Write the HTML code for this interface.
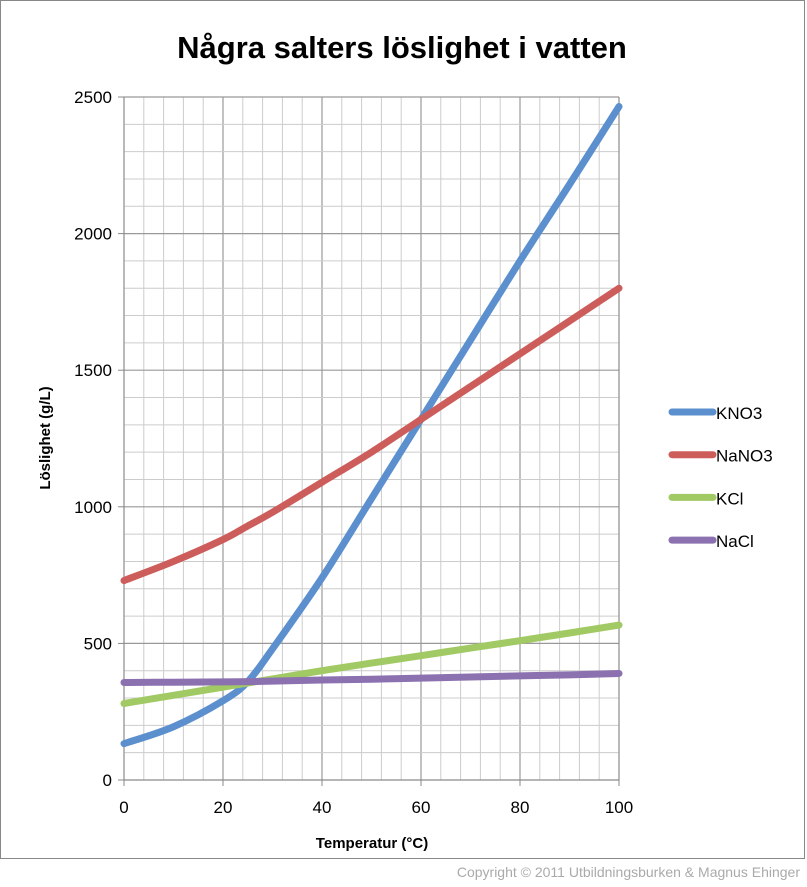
<!DOCTYPE html>
<html><head><meta charset="utf-8"><style>
body{margin:0;background:#fff;width:807px;height:882px;overflow:hidden;font-family:"Liberation Sans",sans-serif}
</style></head><body>
<svg width="807" height="882" font-family="Liberation Sans, sans-serif">
<rect x="0.5" y="0.5" width="804" height="858" fill="#fff" stroke="#888"/>
<text x="402" y="58" text-anchor="middle" font-size="31" font-weight="bold">Några salters löslighet i vatten</text>
<g id="grid"></g>
<g id="axes"></g>
<g id="series"></g>
<text transform="translate(50,438) rotate(-90)" text-anchor="middle" font-size="15" font-weight="bold">Löslighet (g/L)</text>
<text x="372" y="848" text-anchor="middle" font-size="15" font-weight="bold">Temperatur (°C)</text>
<g id="legend"></g>
<text x="800" y="877" text-anchor="end" font-size="14" fill="#aaa">Copyright © 2011 Utbildningsburken &amp; Magnus Ehinger</text>
</svg>
<script>
const temps=[0,10,20,25,30,40,50,60,70,80,90,100];
const kno3=[133,195,290,360,480,740,1030,1320,1610,1900,2180,2465];
const nano3=[730,800,880,930,980,1090,1200,1320,1440,1560,1680,1800];
const kcl=[280,310,340,355,370,400,428,455,483,510,538,567];
const nacl=[357,358,359,360,362,366,369,373,377,381,385,390];
const xTicks=[0,20,40,60,80,100];
const yTicks=[0,500,1000,1500,2000,2500];
const seriesNames=["KNO3","NaNO3","KCl","NaCl"];
const colors=["#5b8fce","#cd5d5a","#a1c964","#8b71b0"];
const X0=124,X1=619,Y0=780,Y1=97;
const sx=v=>X0+(v-0)/100*(X1-X0);
const sy=v=>Y0-(v/2500)*(Y0-Y1);
const NS="http://www.w3.org/2000/svg";
function mk(tag,attrs,parent){const e=document.createElementNS(NS,tag);for(const k in attrs)e.setAttribute(k,attrs[k]);parent.appendChild(e);return e;}
const grid=document.getElementById('grid'),axes=document.getElementById('axes');
for(let t=0;t<=100;t+=4){const major=t%20===0;const l=mk('line',{x1:sx(t),x2:sx(t),y1:Y1,y2:Y0,stroke:major?'#999':'#ccc','stroke-width':major?1.2:1},grid);}
for(let v=0;v<=2500;v+=100){const major=v%500===0;const l=mk('line',{x1:X0,x2:X1,y1:sy(v),y2:sy(v),stroke:major?'#999':'#ccc','stroke-width':major?1.2:1},grid);}
mk('line',{x1:X0,x2:X0,y1:Y1,y2:Y0+6,stroke:'#888'},axes);
mk('line',{x1:X1,x2:X1,y1:Y1,y2:Y0,stroke:'#888'},axes);
mk('line',{x1:X0-6,x2:X1,y1:Y0,y2:Y0,stroke:'#888'},axes);
xTicks.forEach(t=>{mk('line',{x1:sx(t),x2:sx(t),y1:Y0,y2:Y0+6,stroke:'#888'},axes);const tx=mk('text',{x:sx(t),y:Y0+33,'text-anchor':'middle','font-size':17},axes);tx.textContent=t;});
yTicks.forEach(v=>{mk('line',{x1:X0-6,x2:X0,y1:sy(v),y2:sy(v),stroke:'#888'},axes);const tx=mk('text',{x:X0-12,y:sy(v)+6,'text-anchor':'end','font-size':17},axes);tx.textContent=v;});
function path(vals){const p=temps.map((t,i)=>[sx(t),sy(vals[i])]);let d='M'+p[0][0]+','+p[0][1];for(let i=0;i<p.length-1;i++){const a=p[i-1]||p[i],b=p[i],c=p[i+1],e=p[i+2]||c;const c1=[b[0]+(c[0]-a[0])/6,b[1]+(c[1]-a[1])/6],c2=[c[0]-(e[0]-b[0])/6,c[1]-(e[1]-b[1])/6];d+=` C${c1} ${c2} ${c}`;}return d;}
const ser=document.getElementById('series');
[kno3,nano3,kcl,nacl].forEach((vals,i)=>{const el=mk('path',{d:path(vals),fill:'none',stroke:colors[i],'stroke-width':7,'stroke-linecap':'round'},ser);});
// re-order so NaCl/KCl are drawn like reference (KNO3 on top near crossing is fine)
const lg=document.getElementById('legend');
seriesNames.forEach((n,i)=>{const y=412+i*42.7;const g=mk('g',{},lg);mk('line',{x1:672,x2:713,y1:y,y2:y,stroke:colors[i],'stroke-width':7,'stroke-linecap':'round'},g);const t=mk('text',{x:716,y:y+7,'font-size':17},g);t.textContent=n;});
</script>
</body></html>
